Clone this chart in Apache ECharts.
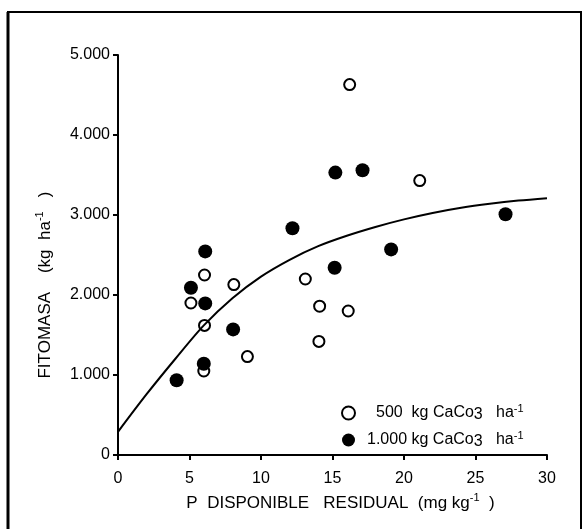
<!DOCTYPE html>
<html>
<head>
<meta charset="utf-8">
<script src="https://cdn.jsdelivr.net/npm/echarts@6/dist/echarts.min.js"></script>
<style>
  html, body { margin: 0; padding: 0; background: #fff; }
  #chart { width: 584px; height: 529px; }
</style>
</head>
<body>
<div id="chart"></div>
<script>
// values
const open500X = [16.2, 21.1, 13.1, 6.05, 8.1, 5.1, 6.05, 14.1, 16.1, 14.05, 9.05, 6.0]
const open500Y = [4630, 3430, 2200, 2250, 2130, 1900, 1620, 1860, 1800, 1420, 1230, 1050]
const fill1000X = [15.2, 17.1, 12.2, 19.1, 15.15, 27.1, 6.1, 5.1, 6.1, 8.05, 6.0, 4.1]
const fill1000Y = [3530, 3560, 2835, 2570, 2340, 3010, 2545, 2090, 1895, 1570, 1140, 935]
const curveX = [0, 2, 4, 6, 8, 10, 12, 14, 16, 18, 20, 22, 24, 26, 28, 30]
const curveY = [290, 760, 1200, 1620, 1960, 2230, 2440, 2610, 2740, 2850, 2945, 3025, 3090, 3140, 3180, 3210]
const yTickLabels = ['0', '1.000', '2.000', '3.000', '4.000', '5.000']
const seriesNames = ['500 kg CaCo3 ha-1', '1.000 kg CaCo3 ha-1']

const font = '"Liberation Sans", Arial, sans-serif'
const zip = (xs, ys) => xs.map((x, i) => [x, ys[i]])

// plain text + superscript styles, reused by titles and legend
const richText = (size) => ({
  t: { fontSize: size, lineHeight: 22, fontFamily: font, color: '#000' },
  p: { fontSize: 11, lineHeight: 12, verticalAlign: 'top', fontFamily: font, color: '#000' },
})

const chart = echarts.init(document.getElementById('chart'))
chart.setOption({
  animation: false,
  textStyle: { fontFamily: font, color: '#000' },
  grid: { left: 118, right: 37, top: 55, bottom: 74, containLabel: false },
  graphic: [
    {
      type: 'rect',
      shape: { x: 8, y: 12, width: 573, height: 530 },
      style: { fill: 'none', stroke: '#000', lineWidth: 2 },
    },
    {
      type: 'line',
      shape: { x1: 8, y1: 12, x2: 8, y2: 529 },
      style: { stroke: '#000', lineWidth: 3 },
    },
  ],
  legend: {
    orient: 'vertical',
    left: 336,
    top: 398,
    icon: 'circle',
    itemWidth: 13,
    itemHeight: 13,
    itemGap: 7,
    data: seriesNames,
    formatter: (name) => {
      if (name === seriesNames[0]) {
        return '{g1|}{t|500  kg CaCo}{s|3}{t|   ha}{p|-1}'
      }
      return '{g2|}{t|1.000 kg CaCo}{s|3}{t|   ha}{p|-1}'
    },
    textStyle: {
      fontFamily: font,
      color: '#000',
      rich: {
        g1: { width: 16 },
        g2: { width: 7 },
        t: { fontSize: 16, lineHeight: 20, fontFamily: font, color: '#000' },
        s: { fontSize: 16, lineHeight: 17, verticalAlign: 'bottom', fontFamily: font, color: '#000' },
        p: { fontSize: 11, lineHeight: 11, verticalAlign: 'top', fontFamily: font, color: '#000' },
      },
    },
  },
  xAxis: {
    type: 'value',
    min: 0,
    max: 30,
    interval: 5,
    name: '{t|P  DISPONIBLE   RESIDUAL  (mg kg}{p|-1}{t|  )}',
    nameLocation: 'middle',
    nameGap: 37,
    nameTextStyle: {
      padding: [0, 0, 0, 16],
      rich: richText(17),
    },
    axisLine: { lineStyle: { color: '#000', width: 2 } },
    axisTick: { show: true, length: 5, lineStyle: { color: '#000', width: 2 } },
    axisLabel: { fontSize: 16, color: '#000', margin: 16, fontFamily: font },
    splitLine: { show: false },
  },
  yAxis: {
    type: 'value',
    min: 0,
    max: 5000,
    interval: 1000,
    name: '{t|FITOMASA    (kg  ha}{p|-1}{t|   )}',
    nameLocation: 'middle',
    nameGap: 62,
    nameTextStyle: {
      padding: [0, 60, 0, 0],
      rich: richText(17),
    },
    axisLine: { show: true, lineStyle: { color: '#000', width: 2 } },
    axisTick: { show: true, length: 5, lineStyle: { color: '#000', width: 2 } },
    axisLabel: {
      fontSize: 16,
      color: '#000',
      margin: 8,
      fontFamily: font,
      formatter: (v) => yTickLabels[Math.round(v / 1000)],
    },
    splitLine: { show: false },
  },
  series: [
    {
      type: 'line',
      data: zip(curveX, curveY),
      smooth: 0.3,
      symbol: 'none',
      lineStyle: { color: '#000', width: 2 },
      silent: true,
    },
    {
      name: seriesNames[0],
      type: 'scatter',
      data: zip(open500X, open500Y),
      symbol: 'circle',
      symbolSize: 11,
      itemStyle: { color: '#fff', borderColor: '#000', borderWidth: 2, opacity: 1 },
    },
    {
      name: seriesNames[1],
      type: 'scatter',
      data: zip(fill1000X, fill1000Y),
      symbol: 'circle',
      symbolSize: 14,
      itemStyle: { color: '#000', borderColor: '#000', borderWidth: 0, opacity: 1 },
    },
  ],
})
</script>
</body>
</html>
